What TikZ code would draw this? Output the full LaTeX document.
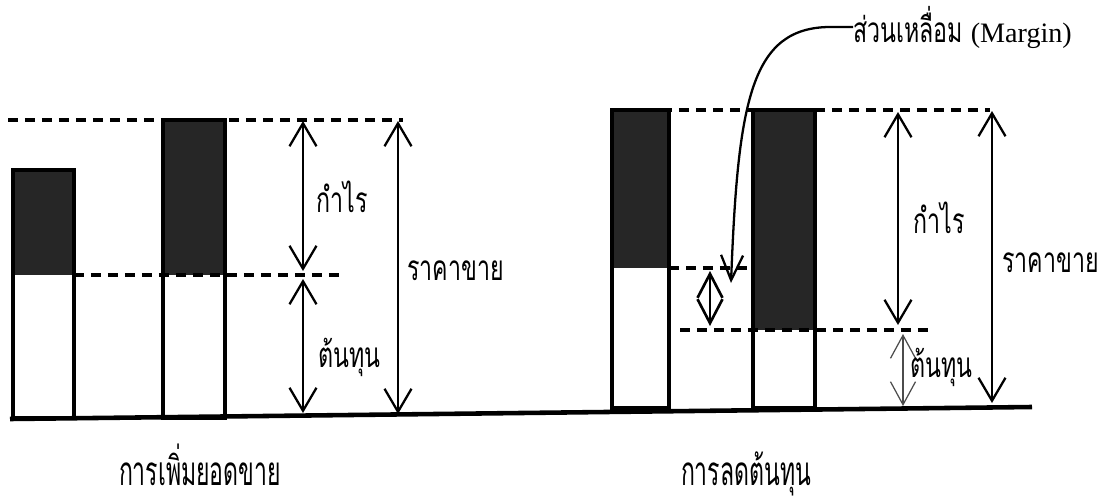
\documentclass[tikz,border=0pt]{standalone}
\usepackage{fontspec}
\newfontfamily\thaifont[Script=Thai,FakeStretch=0.66]{Loma}
\newfontfamily\thaicap[Script=Thai,FakeStretch=0.57]{Loma}
\newfontfamily\latinfont{Liberation Serif}
\usetikzlibrary{arrows.meta}

\begin{document}
\begin{tikzpicture}[x=0.02cm,y=-0.02cm,
  bar/.style={line width=2pt},
  shade/.style={fill=black!85},
  guide/.style={line width=2pt,dash pattern=on 2mm off 1.4mm},
  span/.style={line width=1.3pt,{Straight Barb[length=4.6mm,width=5.4mm]}-{Straight Barb[length=4.6mm,width=5.4mm]}},
  faint span/.style={line width=0.7pt,black!70,{Straight Barb[length=4.6mm,width=5mm]}-{Straight Barb[length=4.6mm,width=5mm]}},
  lbl/.style={font=\thaifont\fontsize{20}{22}\selectfont,inner sep=0pt,anchor=base west},
  caption/.style={font=\thaicap\fontsize{23}{25}\selectfont,inner sep=0pt,anchor=base}]
\useasboundingbox (0,0) rectangle (1110,504);

% ground line
\draw[line width=2.6pt] (10,419) -- (1032,407);

% bars: left x, right x, top, split, bottom
\foreach \xa/\xb/\yt/\ym/\yb in {13/74/170/275/418, 163/225/120/275/418,
                                 612/669/110/268/408, 753/815/110/330/408}{
  \fill[shade] (\xa,\yt) rectangle (\xb,\ym);
  \draw[bar] (\xa,\yt) rectangle (\xb,\yb);
}

% guides
\draw[guide] (8,120) -- (403,120);
\draw[guide] (74,275) -- (345,275);
\draw[guide] (645,110) -- (990,110);
\draw[guide] (669,268) -- (747,268);
\draw[guide] (680,330) -- (933,330);

% left: increase sales
\coordinate (lpTop) at (303,121);
\coordinate (lpBot) at (303,271);
\coordinate (lcTop) at (303,279);
\coordinate (lcBot) at (303,413);
\coordinate (lsTop) at (398,121);
\coordinate (lsBot) at (398,414);
\draw[span] (lpTop) -- (lpBot);
\draw[span] (lcTop) -- (lcBot);
\draw[span] (lsTop) -- (lsBot);
\node[lbl] (lProfit) at (316,212) {กำไร};
\node[lbl] (lCost) at (318,367) {ต้นทุน};
\node[lbl] (lPrice) at (407,280) {ราคาขาย};

% right: cut cost
\coordinate (rpTop) at (898,112);
\coordinate (rpBot) at (898,325);
\coordinate (rcTop) at (903,334);
\coordinate (rcBot) at (903,406);
\coordinate (rsTop) at (992,111);
\coordinate (rsBot) at (992,403);
\coordinate (dTop) at (710,271);
\coordinate (dBot) at (710,326);
\coordinate (mTip) at (731,283);
\draw[span] (rpTop) -- (rpBot);
\draw[faint span] (rcTop) -- (rcBot);
\draw[span] (rsTop) -- (rsBot);
\draw[line width=1.5pt,{Straight Barb[length=4.8mm,width=5mm]}-{Straight Barb[length=4.8mm,width=5mm]}] (dTop) -- (dBot);
\node[lbl] (rProfit) at (913,233) {กำไร};
\node[lbl] (rCost) at (910,377) {ต้นทุน};
\node[lbl] (rPrice) at (1002,272) {ราคาขาย};

% margin note
\node[lbl] (margin) at (853,42) {ส่วนเหลื่อม {\latinfont\fontsize{16}{18}\selectfont(Margin)}};
\draw[line width=1.3pt,-{Straight Barb[length=5mm,width=4.4mm]}]
  (margin.west) -- ++(-22,0) .. controls +(-80,0) and +(7,-183) .. (mTip);

% captions
\node[caption] (capSales) at (200,485) {การเพิ่มยอดขาย};
\node[caption] (capCost) at (746,485) {การลดต้นทุน};
\end{tikzpicture}
\end{document}
